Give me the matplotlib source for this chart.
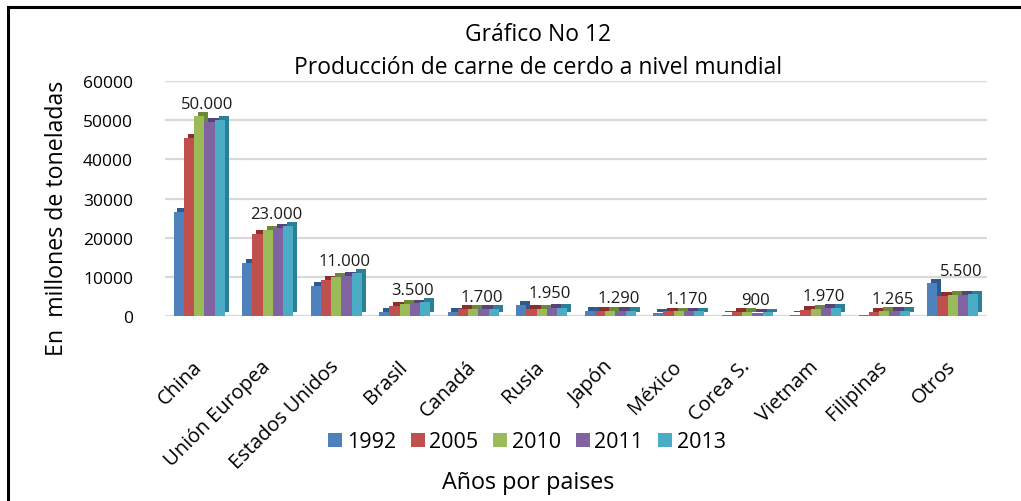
import matplotlib
matplotlib.use('Agg')
import matplotlib.pyplot as plt
import matplotlib.patheffects as pe
from matplotlib.patches import Rectangle, Patch
import numpy as np

plt.rcParams['font.family'] = ['Open Sans', 'DejaVu Sans']

paises = ['China', 'Unión Europea', 'Estados Unidos', 'Brasil', 'Canadá', 'Rusia',
          'Japón', 'México', 'Corea S.', 'Vietnam', 'Filipinas', 'Otros']
anios = ['1992', '2005', '2010', '2011', '2013']
v1992 = [26500, 13500, 7700, 1100, 1100, 2800, 1400, 800, 200, 200, 150, 8500]
v2005 = [45500, 21000, 9300, 2600, 1700, 1800, 1300, 1150, 950, 1600, 1100, 5200]
v2010 = [51000, 22000, 10000, 3100, 1750, 1900, 1290, 1170, 1000, 1850, 1240, 5300]
v2011 = [49500, 22500, 10300, 3200, 1700, 1950, 1290, 1170, 850, 2000, 1265, 5400]
v2013 = [50000, 23000, 11000, 3500, 1700, 1950, 1290, 1170, 900, 1970, 1265, 5500]
etiquetas = ['50.000', '23.000', '11.000', '3.500', '1.700', '1.950', '1.290',
             '1.170', '900', '1.970', '1.265', '5.500']

colores = ['#4F81BD', '#C0504D', '#9BBB59', '#8064A2', '#4BACC6']
oscuros = ['#2E5B8E', '#8C2F2C', '#6C8A35', '#57427A', '#2B7F96']

series = [v1992, v2005, v2010, v2011, v2013]

fig = plt.figure(figsize=(10.21, 5.02), dpi=100)
ax = fig.add_axes([165 / 1021, 1 - 317 / 502, 822 / 1021, 235 / 502])

x = np.arange(len(paises))
w = 0.15
for i, (vals, c, d) in enumerate(zip(series, colores, oscuros)):
    bars = ax.bar(x + (i - 2) * w, vals, w, color=c, zorder=3)
    for b in bars:
        b.set_path_effects([pe.SimplePatchShadow(offset=(2.8, 2.8), shadow_rgbFace=d, alpha=1.0),
                            pe.Normal()])

# etiqueta encima de la barra mas alta de cada grupo
maximos = np.max(np.array(series), axis=0)
for xi, v, t in zip(x, maximos, etiquetas):
    ax.annotate(t, (xi + 0.12, v), xytext=(0, 3), textcoords='offset points',
                ha='center', va='bottom', fontsize=12, color='#1a1a1a')

ax.set_xlim(-0.5, len(paises) - 0.5)
ax.set_ylim(0, 60000)
ax.set_yticks(range(0, 60001, 10000))
ax.set_yticklabels([str(v) for v in range(0, 60001, 10000)], fontsize=12.5)
ax.grid(axis='y', color='#d9d9d9', linewidth=1.6, zorder=0)
ax.set_axisbelow(True)
for s in ax.spines.values():
    s.set_visible(False)
ax.tick_params(axis='y', length=0, pad=23)
ax.tick_params(axis='x', length=0, pad=34)
ax.set_xticks(x)
ax.set_xticklabels(paises, rotation=45, ha='right', va='center', rotation_mode='anchor', fontsize=14.5)

fig.text(538 / 1021, 1 - 35 / 502, 'Gráfico No 12', ha='center', va='center', fontsize=16.5)
fig.text(538 / 1021, 1 - 68 / 502, 'Producción de carne de cerdo a nivel mundial',
         ha='center', va='center', fontsize=16.5)
fig.text(57 / 1021, 1 - 218 / 502, 'En  millones de toneladas', rotation=90,
         ha='center', va='center', fontsize=16.7)
fig.text(528 / 1021, 1 - 483 / 502, 'Años por paises', ha='center', va='center', fontsize=16.8)

handles = [Patch(facecolor=c) for c in colores]
fig.legend(handles, anios, loc='center', bbox_to_anchor=(527 / 1021, 1 - 443 / 502),
           ncol=5, frameon=False, fontsize=15.5, handlelength=0.65, handleheight=0.65,
           handletextpad=0.2, columnspacing=0.7)

fig.patches.append(Rectangle((8 / 1021, -0.2), 1.5, 1.2 - 8 / 502, transform=fig.transFigure,
                             fill=False, edgecolor='black', linewidth=2.2))

fig.savefig('out.png', dpi=100)
